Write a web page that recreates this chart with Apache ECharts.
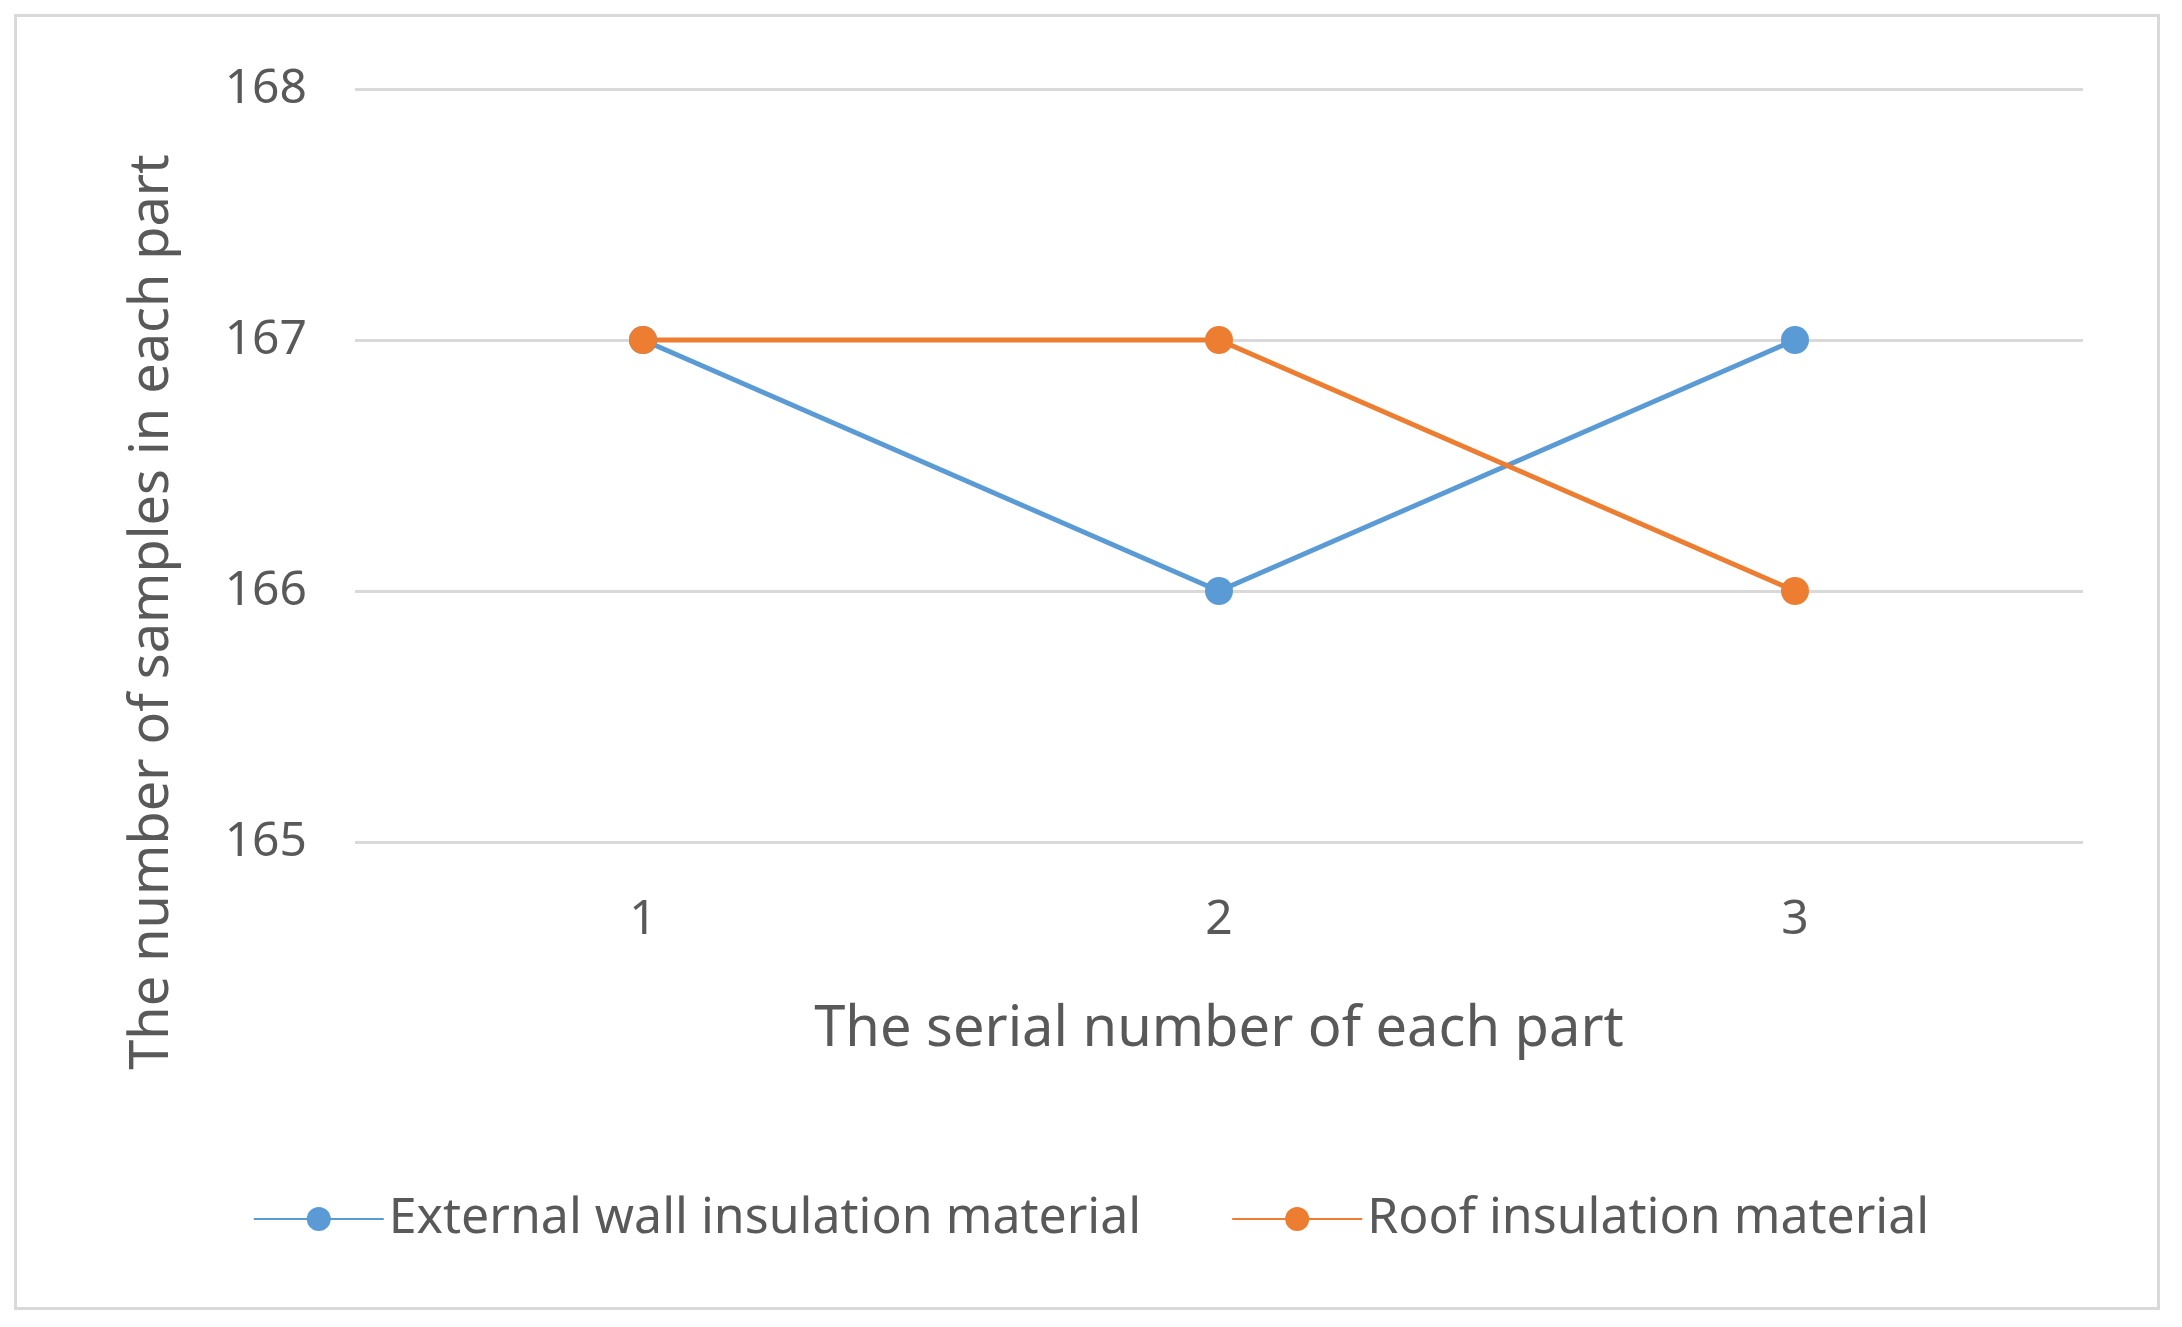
<!DOCTYPE html>
<html>
<head>
<meta charset="utf-8">
<script src="https://cdn.jsdelivr.net/npm/echarts@6/dist/echarts.min.js"></script>
<style>
html,body{margin:0;padding:0;background:#fff;}
#frame{position:absolute;left:14px;top:14px;width:2146px;height:1296px;border:3px solid #d9d9d9;box-sizing:border-box;}
#chart{width:2182px;height:1327px;position:absolute;left:0;top:0;}
</style>
</head>
<body>
<div id="frame"></div>
<div id="chart"></div>
<script>
// categories and values
var parts = ['1', '2', '3'];
var wallValues = [167, 166, 167];
var roofValues = [167, 167, 166];
var yTicks = [165, 166, 167, 168];

var chart = echarts.init(document.getElementById('chart'));
var textColor = '#595959';
var option = {
    animation: false,
    grid: {left: 355, right: 99, top: 89, bottom: 485},
    graphic: [{
        type: 'text',
        x: 153,
        y: 612,
        rotation: Math.PI / 2,
        style: {
            text: 'The number of samples in each part',
            fontSize: 54,
            fill: textColor,
            fontFamily: 'Noto Sans',
            align: 'center',
            verticalAlign: 'middle'
        }
    }],
    legend: {
        bottom: 78,
        left: 'center',
        itemGap: 90,
        itemWidth: 130,
        itemHeight: 30,
        textStyle: {fontSize: 50, color: textColor, fontFamily: 'Noto Sans'},
        data: ['External wall insulation material', 'Roof insulation material']
    },
    xAxis: {
        type: 'category',
        data: parts,
        name: 'The serial number of each part',
        nameLocation: 'middle',
        nameGap: 160,
        nameTextStyle: {fontSize: 56, color: textColor, fontFamily: 'Noto Sans'},
        axisLine: {show: false},
        axisTick: {show: false},
        axisLabel: {fontSize: 48, color: textColor, margin: 54, fontFamily: 'Noto Sans'}
    },
    yAxis: {
        type: 'value',
        min: yTicks[0],
        max: yTicks[yTicks.length - 1],
        interval: 1,
        axisLabel: {fontSize: 48, color: textColor, margin: 48, fontFamily: 'Noto Sans'},
        splitLine: {lineStyle: {color: '#d9d9d9', width: 3}}
    },
    series: [
        {
            name: 'External wall insulation material',
            type: 'line',
            data: wallValues,
            symbol: 'circle',
            symbolSize: 28,
            itemStyle: {color: '#5b9bd5'},
            lineStyle: {width: 5, color: '#5b9bd5'}
        },
        {
            name: 'Roof insulation material',
            type: 'line',
            data: roofValues,
            symbol: 'circle',
            symbolSize: 28,
            itemStyle: {color: '#ed7d31'},
            lineStyle: {width: 5, color: '#ed7d31'}
        }
    ]
};
chart.setOption(option);
</script>
</body>
</html>
